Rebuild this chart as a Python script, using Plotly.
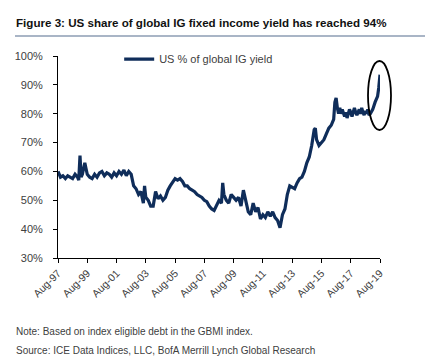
import plotly.graph_objects as go

dates = [
    "1997-08", "1997-10", "1997-12",
    "1998-02", "1998-04", "1998-06", "1998-08", "1998-10", "1998-12",
    "1999-01", "1999-02", "1999-03", "1999-04", "1999-05", "1999-06", "1999-07", "1999-08", "1999-10", "1999-12",
    "2000-02", "2000-04", "2000-06", "2000-08", "2000-10", "2000-12",
    "2001-02", "2001-04", "2001-06", "2001-08", "2001-10", "2001-12",
    "2002-02", "2002-04", "2002-06", "2002-08", "2002-10", "2002-12",
    "2003-02", "2003-04", "2003-06", "2003-07", "2003-08", "2003-10", "2003-12",
    "2004-02", "2004-04", "2004-06", "2004-08", "2004-10", "2004-12",
    "2005-02", "2005-04", "2005-06", "2005-08", "2005-10", "2005-12",
    "2006-02", "2006-04", "2006-06", "2006-08", "2006-10", "2006-12",
    "2007-02", "2007-04", "2007-06", "2007-08", "2007-10", "2007-12",
    "2008-02", "2008-04", "2008-06", "2008-08", "2008-10", "2008-11", "2008-12",
    "2009-02", "2009-04", "2009-06", "2009-08", "2009-10", "2009-12",
    "2010-02", "2010-04", "2010-06", "2010-08", "2010-10", "2010-12",
    "2011-02", "2011-04", "2011-06", "2011-08", "2011-10", "2011-12",
    "2012-02", "2012-04", "2012-06", "2012-08", "2012-10", "2012-12",
    "2013-02", "2013-04", "2013-06", "2013-08", "2013-10", "2013-12",
    "2014-02", "2014-04", "2014-06", "2014-08", "2014-10", "2014-12",
    "2015-02", "2015-03", "2015-04", "2015-06", "2015-08", "2015-10", "2015-12",
    "2016-02", "2016-04", "2016-06", "2016-07", "2016-08", "2016-09", "2016-10", "2016-11", "2016-12",
    "2017-01", "2017-02", "2017-03", "2017-04", "2017-05", "2017-06", "2017-07", "2017-08",
    "2017-09", "2017-10", "2017-11", "2017-12",
    "2018-01", "2018-02", "2018-03", "2018-04", "2018-05", "2018-06", "2018-07", "2018-08",
    "2018-09", "2018-10", "2018-11", "2018-12",
    "2019-02", "2019-04", "2019-06", "2019-07", "2019-08",
]

us_share = [
    60.0, 58.0, 58.5,
    57.5, 58.5, 58.0, 57.5, 59.0, 58.0,
    57.0, 65.5, 58.0, 59.0, 61.0, 63.0, 61.0, 59.0, 58.0, 57.5,
    59.0, 58.0, 59.5, 60.0, 58.5, 59.5,
    59.0, 58.0, 59.5, 58.5, 60.0, 59.0,
    60.5, 58.5, 60.0, 59.0, 55.0, 54.0,
    52.0, 53.0, 49.0, 55.0, 51.0, 50.0, 48.0,
    48.0, 53.0, 50.5, 51.5, 50.0, 51.0,
    53.5, 55.0, 56.5, 57.5, 57.0, 57.5,
    56.5, 55.0, 55.0, 54.0, 53.5, 53.0,
    52.0, 51.5, 51.0, 50.0, 49.5, 48.0,
    47.0, 46.5, 48.0, 50.0, 49.0, 56.0, 52.0,
    50.0, 49.0, 52.0, 51.0, 50.0, 51.0,
    48.0, 53.5, 50.0, 46.0, 45.0, 49.0,
    46.0, 47.5, 43.5, 45.0, 44.0, 46.0,
    44.5, 46.0, 44.0, 43.0, 40.5, 45.0,
    47.0, 52.0, 55.0, 54.5, 54.0, 56.0,
    57.5, 58.0, 60.0, 63.0, 65.0, 69.0,
    74.5, 75.0, 71.0, 69.0, 70.0, 71.0, 73.0,
    75.0, 76.0, 78.0, 84.0, 85.5, 82.0, 80.0, 82.0, 80.0,
    81.5, 80.0, 79.0, 80.5, 78.5, 80.0, 81.5, 80.5,
    79.0, 80.5, 82.0, 80.5,
    79.5, 80.5, 81.5, 80.0, 82.0, 80.5, 79.5, 81.0,
    80.0, 81.5, 79.5, 80.0,
    81.5, 84.0, 86.0, 89.0, 93.5,
]

tick_dates = ["1997-08-01", "1999-08-01", "2001-08-01", "2003-08-01", "2005-08-01", "2007-08-01",
              "2009-08-01", "2011-08-01", "2013-08-01", "2015-08-01", "2017-08-01", "2019-08-01"]
tick_labels = ["Aug-97", "Aug-99", "Aug-01", "Aug-03", "Aug-05", "Aug-07",
               "Aug-09", "Aug-11", "Aug-13", "Aug-15", "Aug-17", "Aug-19"]
y_ticks = [30, 40, 50, 60, 70, 80, 90, 100]
y_labels = ["30%", "40%", "50%", "60%", "70%", "80%", "90%", "100%"]

series_name = "US % of global IG yield"
title_text = "Figure 3: US share of global IG fixed income yield has reached 94%"
note_text = "Note: Based on index eligible debt in the GBMI index."
source_text = "Source: ICE Data Indices, LLC, BofA Merrill Lynch Global Research"

LINE = "#0f2d5a"
TXT = "#404040"
FONT = "Liberation Sans, Arial, sans-serif"

fig = go.Figure()
fig.add_trace(go.Scatter(x=dates, y=us_share, mode="lines", name=series_name,
                         line=dict(color=LINE, width=3.2), showlegend=True))

fig.update_layout(
    width=433, height=360,
    margin=dict(l=50, r=61, t=48, b=110, autoexpand=False),
    paper_bgcolor="white", plot_bgcolor="white",
    font=dict(family=FONT, color=TXT, size=11),
    showlegend=True,
    legend=dict(x=0.19, y=0.985, xanchor="left", yanchor="middle",
                bgcolor="rgba(0,0,0,0)", font=dict(size=11, color=TXT),
                itemwidth=30),
    xaxis=dict(range=["1997-08-01", "2019-08-01"], tickmode="array", tickvals=tick_dates,
               ticktext=tick_labels, tickangle=-45, ticks="outside", ticklen=4,
               tickcolor="black", showline=True, linecolor="black", linewidth=1,
               showgrid=False, zeroline=False, automargin=False,
               tickfont=dict(size=10.5, color=TXT)),
    yaxis=dict(range=[30, 100], tickmode="array", tickvals=y_ticks, ticktext=y_labels,
               ticks="outside", ticklen=4, tickcolor="black", showline=True,
               linecolor="black", linewidth=1, showgrid=False, zeroline=False,
               automargin=False, ticklabelstandoff=8, tickfont=dict(size=11, color=TXT)),
)

# Title and underline
fig.add_annotation(text="<b>" + title_text + "</b>", xref="paper", yref="paper",
                   x=-44 / 322, y=1 + 34 / 202, xanchor="left", yanchor="middle",
                   showarrow=False, font=dict(size=11.6, color="#111111", family=FONT))
fig.add_shape(type="line", xref="paper", yref="paper",
              x0=-43 / 322, x1=378 / 322, y0=1 + 20 / 202, y1=1 + 20 / 202,
              line=dict(color="#8c9db3", width=1.5))

# Notes
fig.add_annotation(text=note_text, xref="paper", yref="paper",
                   x=-44 / 322, y=-73 / 202, xanchor="left", yanchor="middle",
                   showarrow=False, font=dict(size=10, color=TXT, family=FONT))
fig.add_annotation(text=source_text, xref="paper", yref="paper",
                   x=-44 / 322, y=-92 / 202, xanchor="left", yanchor="middle",
                   showarrow=False, font=dict(size=10, color=TXT, family=FONT))

# Highlight ellipse (paper coords so it is not clipped by the plot area)
fig.add_shape(type="circle", xref="paper", yref="paper",
              x0=310 / 322, x1=333 / 322, y0=128 / 202, y1=197 / 202,
              line=dict(color="black", width=1.8))

fig.write_html("out.html")
